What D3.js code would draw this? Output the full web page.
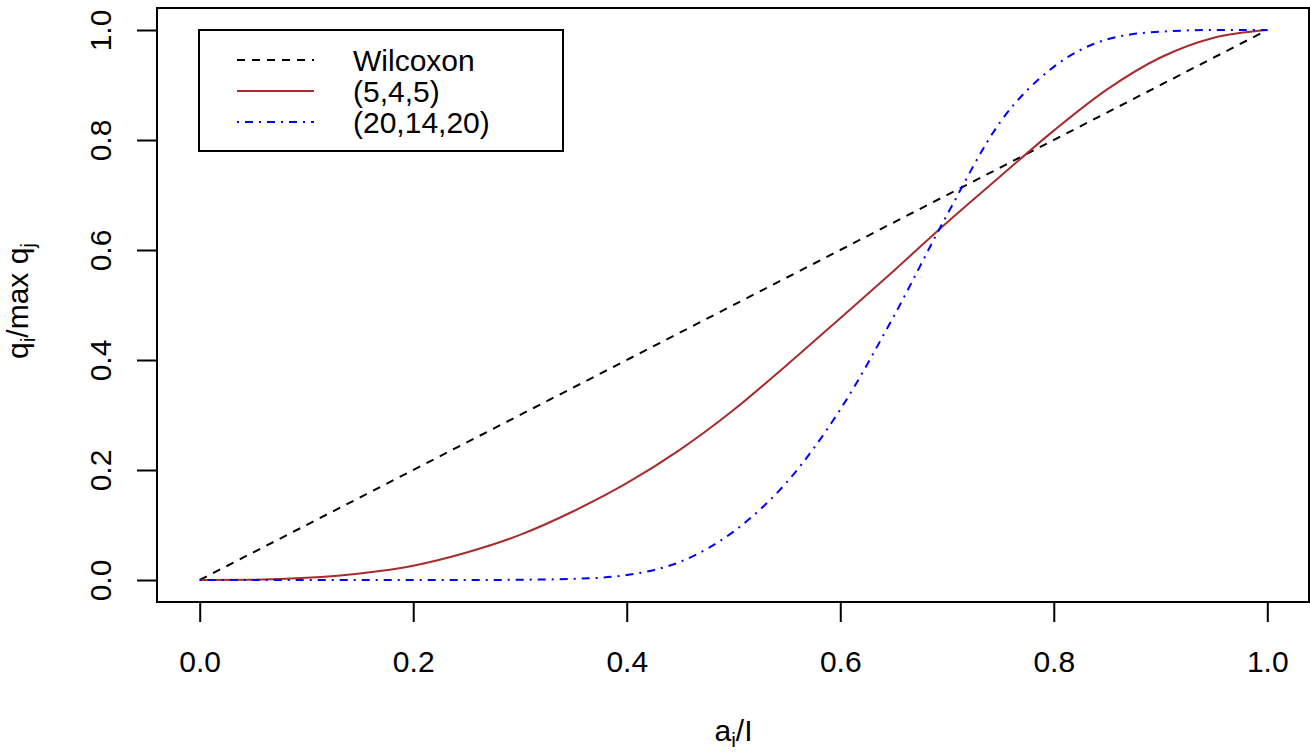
<!DOCTYPE html>
<html>
<head>
<meta charset="utf-8">
<script src="https://cdn.jsdelivr.net/npm/d3@7"></script>
<style>
  body { margin: 0; background: #fff; }
  text { font-family: "Liberation Sans", Arial, sans-serif; fill: #000; }
</style>
</head>
<body>
<script>
// values
var xGrid = [0, 0.05, 0.10, 0.15, 0.20, 0.25, 0.30, 0.35, 0.40, 0.45, 0.50,
             0.55, 0.60, 0.65, 0.70, 0.75, 0.80, 0.85, 0.90, 0.95, 1.0];
var wilcoxonX = [0, 1];
var wilcoxon = [0, 1];
var scores545 = [0, 0.0006, 0.004, 0.012, 0.026, 0.050, 0.082, 0.125, 0.176, 0.237, 0.309,
                 0.391, 0.476, 0.562, 0.650, 0.734, 0.817, 0.892, 0.950, 0.986, 1.0];
var scores201420 = [0, 0, 0, 0, 0, 0, 0.0005, 0.002, 0.009, 0.033, 0.088,
                    0.178, 0.310, 0.479, 0.664, 0.833, 0.933, 0.983, 0.997, 1.0, 1.0];
var xTicks = [0, 0.2, 0.4, 0.6, 0.8, 1.0];
var yTicks = [0, 0.2, 0.4, 0.6, 0.8, 1.0];
var legendLabels = ["Wilcoxon", "(5,4,5)", "(20,14,20)"];

var W = 1310, H = 753;
var svg = d3.select("body").append("svg").attr("width", W).attr("height", H);

// R style 4% padding on both scales
var x = d3.scaleLinear().domain([-0.04, 1.04]).range([157, 1310]);
var y = d3.scaleLinear().domain([-0.04, 1.04]).range([602, 8]);

var fs = 30;

var line = d3.line().x(function(d){ return x(d[0]); }).y(function(d){ return y(d[1]); });

var series = [
  {name: legendLabels[0], pts: d3.zip(wilcoxonX, wilcoxon), color: "#000", dash: "8,7", curve: d3.curveLinear},
  {name: legendLabels[1], pts: d3.zip(xGrid, scores545), color: "#a82c2c", dash: null, curve: d3.curveMonotoneX},
  {name: legendLabels[2], pts: d3.zip(xGrid, scores201420), color: "#0000ff", dash: "2,6,8,6", curve: d3.curveMonotoneX}
];

series.forEach(function(s){
  svg.append("path")
     .attr("d", line.curve(s.curve)(s.pts))
     .attr("fill", "none")
     .attr("stroke", s.color)
     .attr("stroke-width", 2)
     .attr("stroke-dasharray", s.dash);
});

// plot box
svg.append("rect").attr("x", 157).attr("y", 8).attr("width", 1309 - 157).attr("height", 602 - 8)
   .attr("fill", "none").attr("stroke", "#000").attr("stroke-width", 2);

// x axis
var xa = svg.append("g").attr("transform", "translate(0,602)")
  .call(d3.axisBottom(x).tickValues(xTicks).tickSize(20).tickFormat(d3.format(".1f")));
xa.select(".domain").attr("d", "M" + x(0) + ",0H" + x(1)).attr("stroke-width", 2);
xa.selectAll(".tick line").attr("stroke-width", 2);
xa.selectAll(".tick text").attr("y", 70).attr("dy", null).style("font-size", fs + "px").attr("font-family", null);

// y axis
var ya = svg.append("g").attr("transform", "translate(157,0)")
  .call(d3.axisLeft(y).tickValues(yTicks).tickSize(20).tickFormat(d3.format(".1f")));
ya.select(".domain").attr("d", "M0," + y(0) + "V" + y(1)).attr("stroke-width", 2);
ya.selectAll(".tick line").attr("stroke-width", 2);
ya.selectAll(".tick text")
  .attr("x", null).attr("dy", null)
  .attr("text-anchor", "middle")
  .attr("transform", "translate(-46,0) rotate(-90)")
  .style("font-size", fs + "px").attr("font-family", null);

// axis titles
var xt = svg.append("text").attr("x", x(0.5)).attr("y", 741).attr("text-anchor", "middle").style("font-size", fs + "px");
xt.append("tspan").text("a");
xt.append("tspan").attr("dy", 6).style("font-size", "21px").text("i");
xt.append("tspan").attr("dy", -6).text("/I");

var yt = svg.append("text").attr("transform", "translate(28," + (y(0.5) - 4) + ") rotate(-90)")
  .attr("text-anchor", "middle").style("font-size", fs + "px");
yt.append("tspan").text("q");
yt.append("tspan").attr("dy", 7).style("font-size", "21px").text("i");
yt.append("tspan").attr("dy", -7).text("/max q");
yt.append("tspan").attr("dy", 7).style("font-size", "21px").text("j");

// legend
var lg = svg.append("g");
lg.append("rect").attr("x", 199).attr("y", 30).attr("width", 364).attr("height", 121)
  .attr("fill", "#fff").attr("stroke", "#000").attr("stroke-width", 2);
var rowY = [60, 91, 122];
series.forEach(function(s, i){
  lg.append("line").attr("x1", 237).attr("x2", 314).attr("y1", rowY[i]).attr("y2", rowY[i])
    .attr("stroke", s.color).attr("stroke-width", 2).attr("stroke-dasharray", s.dash);
  lg.append("text").attr("x", 353).attr("y", rowY[i] + 11).style("font-size", fs + "px").text(s.name);
});
</script>
</body>
</html>
